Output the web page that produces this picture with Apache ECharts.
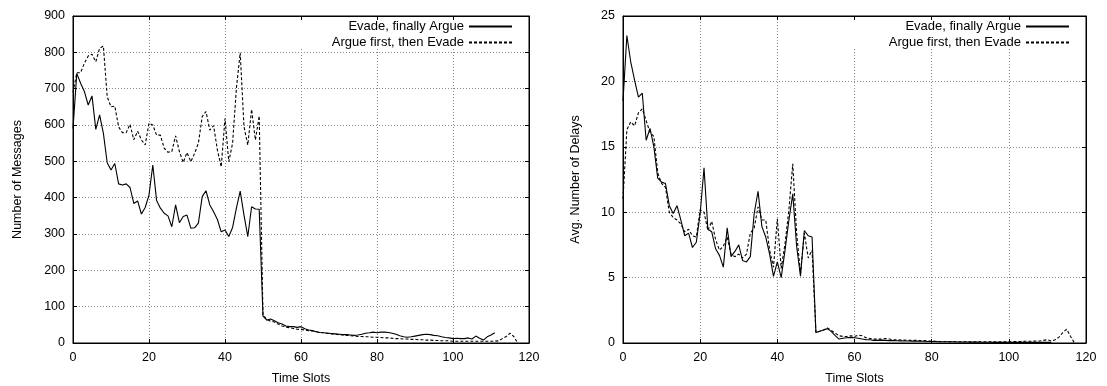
<!DOCTYPE html>
<html>
<head>
<meta charset="utf-8">
<script src="https://cdn.jsdelivr.net/npm/echarts@6/dist/echarts.min.js"></script>
<style>
  html, body { margin: 0; padding: 0; background: #fff; }
  #chart { width: 1107px; height: 386px; }
</style>
</head>
<body>
<div id="chart"></div>
<script>
// time slot ticks (shared by both panels)
const slotTicks = [0, 20, 40, 60, 80, 100, 120];
const msgTicks = [0, 100, 200, 300, 400, 500, 600, 700, 800, 900];
const delayTicks = [0, 5, 10, 15, 20, 25];

const nameEvade = "Evade, finally Argue";
const nameArgue = "Argue first, then Evade";

// left panel: number of messages per time slot (slot 0, 1, 2, ...)
const evadeMsgs = [
  590, 742, 715, 692, 655, 680, 588, 628, 577, 496,
  476, 494, 438, 435, 438, 428, 384, 391, 355, 373,
  407, 490, 392, 371, 357, 350, 320, 380, 331, 348,
  352, 316, 317, 330, 403, 419, 380, 361, 340, 306,
  311, 293, 318, 371, 418, 352, 293, 375, 369, 368,
  74, 63, 66, 61, 56, 52, 47, 45, 45, 43,
  45, 39, 36, 34, 31, 29, 28, 27, 26, 25,
  24, 23, 23, 22, 21, 22, 24, 27, 28, 30,
  28, 30, 30, 29, 27, 24, 20, 17, 16, 17,
  19, 21, 23, 24, 23, 21, 20, 17, 15, 14,
  12, 13, 12, 12, 14, 11, 19, 13, 8, 17,
  22, 28
];
const argueMsgs = [
  690, 744, 744, 770, 790, 795, 774, 811, 817, 678,
  650, 652, 595, 579, 579, 602, 559, 583, 559, 545,
  605, 600, 572, 572, 536, 525, 527, 570, 527, 497,
  524, 499, 522, 550, 623, 637, 586, 598, 531, 485,
  618, 499, 550, 701, 799, 595, 545, 643, 559, 625,
  77, 65, 60, 58, 52, 47, 44, 42, 40, 38,
  37, 36, 34, 33, 31, 29, 28, 27, 25, 24,
  23, 22, 21, 20, 19, 18, 18, 17, 17, 16,
  16, 15, 14, 14, 13, 12, 12, 11, 11, 10,
  10, 9, 9, 8, 8, 7, 7, 6, 6, 6,
  5, 5, 5, 5, 5, 5, 5, 5, 5, 5,
  5, 5, 6, 12, 18, 27, 18, 0
];

// right panel: average number of delays per time slot
const evadeDelays = [
  18.5, 23.5, 21.5, 20.1, 18.8, 19.1, 15.5, 16.4, 15.0, 12.6,
  12.3, 12.2, 10.5, 9.9, 10.5, 9.4, 8.2, 8.4, 7.3, 7.7,
  9.9, 13.4, 8.7, 8.5, 7.2, 6.7, 5.8, 8.8, 6.6, 7.0,
  7.5, 6.3, 6.2, 6.6, 9.9, 11.6, 8.9, 8.1, 6.8, 5.1,
  6.2, 5.0, 7.1, 9.4, 11.4, 7.4, 5.1, 8.6, 8.2, 8.1,
  0.8, 0.9, 1.0, 1.1, 0.87, 0.56, 0.3, 0.36, 0.4, 0.43,
  0.4, 0.36, 0.3, 0.25, 0.25, 0.2, 0.2, 0.22, 0.2, 0.18,
  0.18, 0.17, 0.16, 0.15, 0.15, 0.14, 0.14, 0.13, 0.13, 0.12,
  0.12, 0.11, 0.1, 0.1, 0.1, 0.09, 0.09, 0.08, 0.08, 0.08,
  0.07, 0.07, 0.07, 0.06, 0.06, 0.06, 0.05, 0.05, 0.05, 0.05,
  0.05, 0.05, 0.05, 0.05, 0.05, 0.05, 0.05, 0.05, 0.05, 0.05,
  0.05, 0.05
];
const argueDelays = [
  11.0, 16.3, 16.9, 16.6, 17.6, 17.9, 17.0, 16.1, 15.8, 13.0,
  12.2, 11.9, 10.0, 9.6, 9.4, 9.1, 8.5, 8.7, 8.2, 8.1,
  10.2, 10.0, 8.6, 9.3, 7.9, 7.1, 7.4, 8.1, 6.8, 6.6,
  6.8, 6.5, 6.8, 8.4, 8.8, 10.4, 9.4, 9.4, 7.1, 5.8,
  9.5, 5.7, 7.6, 10.2, 13.7, 8.4, 5.3, 8.4, 6.5, 7.1,
  0.8, 0.9, 1.0, 1.15, 0.95, 0.75, 0.55, 0.5, 0.5, 0.55,
  0.5, 0.6, 0.55, 0.4, 0.35, 0.3, 0.3, 0.3, 0.35, 0.3,
  0.25, 0.25, 0.22, 0.22, 0.2, 0.2, 0.2, 0.18, 0.18, 0.16,
  0.15, 0.13, 0.12, 0.12, 0.11, 0.1, 0.1, 0.1, 0.1, 0.1,
  0.1, 0.1, 0.1, 0.1, 0.1, 0.1, 0.1, 0.1, 0.1, 0.1,
  0.1, 0.1, 0.12, 0.12, 0.13, 0.13, 0.14, 0.15, 0.15, 0.2,
  0.25, 0.15, 0.25, 0.45, 0.8, 1.05, 0.5, 0
];

const font = "Liberation Sans";
const black = "#000";

function ticksAxis(ticks, gridIndex, position, withLabels, extra) {
  return Object.assign({
    type: "value",
    gridIndex: gridIndex,
    position: position,
    min: ticks[0],
    max: ticks[ticks.length - 1],
    interval: ticks[1] - ticks[0],
    axisLine: { show: true, onZero: false, lineStyle: { color: black, width: 1 } },
    axisTick: { show: true, inside: true, length: 4, lineStyle: { color: black } },
    axisLabel: {
      show: withLabels, color: black, fontFamily: font, fontSize: 12.5, margin: 8
    },
    splitLine: {
      show: withLabels,
      lineStyle: { color: "#888", type: [1, 2], width: 1 }
    }
  }, extra || {});
}

const nameStyle = { color: black, fontFamily: font, fontSize: 12.5 };

function lineSeries(name, values, xi, yi, dashed) {
  return {
    name: name,
    type: "line",
    xAxisIndex: xi,
    yAxisIndex: yi,
    data: values.map((v, i) => [i, v]),
    symbol: "none",
    showSymbol: false,
    lineStyle: { color: black, width: 1.1, type: dashed ? [3, 2] : "solid" },
    itemStyle: { color: black }
  };
}

// gnuplot-like key: text on the left, line sample on the right, no marker
function legendPair(rightEdge) {
  const txt = { color: black, fontFamily: font, fontSize: 13 };
  const hidden = { color: "rgba(0,0,0,0)", borderColor: "rgba(0,0,0,0)", borderWidth: 0, opacity: 0 };
  return [
    {
      data: [nameEvade],
      right: rightEdge - 14,
      top: 20,
      align: "right",
      itemWidth: 43,
      itemHeight: 14,
      padding: [0, 14, 14, 60],
      backgroundColor: "#fff",
      textStyle: txt,
      itemStyle: hidden,
      z: 4,
      selectedMode: false
    },
    {
      data: [nameArgue],
      right: rightEdge,
      top: 36,
      align: "right",
      itemWidth: 43,
      itemHeight: 14,
      padding: 0,
      textStyle: txt,
      itemStyle: hidden,
      z: 6,
      selectedMode: false
    }
  ];
}

const chart = echarts.init(document.getElementById("chart"), null, { renderer: "canvas" });

const option = {
  animation: false,
  backgroundColor: "#fff",
  grid: [
    {
      left: 73, top: 16, width: 456, height: 327, outerBoundsMode: "none",
      show: true, borderColor: black, borderWidth: 1
    },
    {
      left: 623, top: 16, width: 463, height: 327, outerBoundsMode: "none",
      show: true, borderColor: black, borderWidth: 1
    }
  ],
  legend: legendPair(1107 - 513).concat(legendPair(1107 - 1070)),
  xAxis: [
    ticksAxis(slotTicks, 0, "bottom", true, {
      name: "Time Slots", nameLocation: "middle", nameGap: 29, nameTextStyle: nameStyle
    }),
    ticksAxis(slotTicks, 0, "top", false),
    ticksAxis(slotTicks, 1, "bottom", true, {
      name: "Time Slots", nameLocation: "middle", nameGap: 29, nameTextStyle: nameStyle
    }),
    ticksAxis(slotTicks, 1, "top", false)
  ],
  yAxis: [
    ticksAxis(msgTicks, 0, "left", true, {
      name: "Number of Messages", nameLocation: "middle", nameGap: 49, nameTextStyle: nameStyle
    }),
    ticksAxis(msgTicks, 0, "right", false),
    ticksAxis(delayTicks, 1, "left", true, {
      name: "Avg. Number of Delays", nameLocation: "middle", nameGap: 41, nameTextStyle: nameStyle
    }),
    ticksAxis(delayTicks, 1, "right", false)
  ],
  series: [
    lineSeries(nameEvade, evadeMsgs, 0, 0, false),
    lineSeries(nameArgue, argueMsgs, 0, 0, true),
    lineSeries(nameEvade, evadeDelays, 2, 2, false),
    lineSeries(nameArgue, argueDelays, 2, 2, true)
  ]
};

chart.setOption(option);
</script>
</body>
</html>
